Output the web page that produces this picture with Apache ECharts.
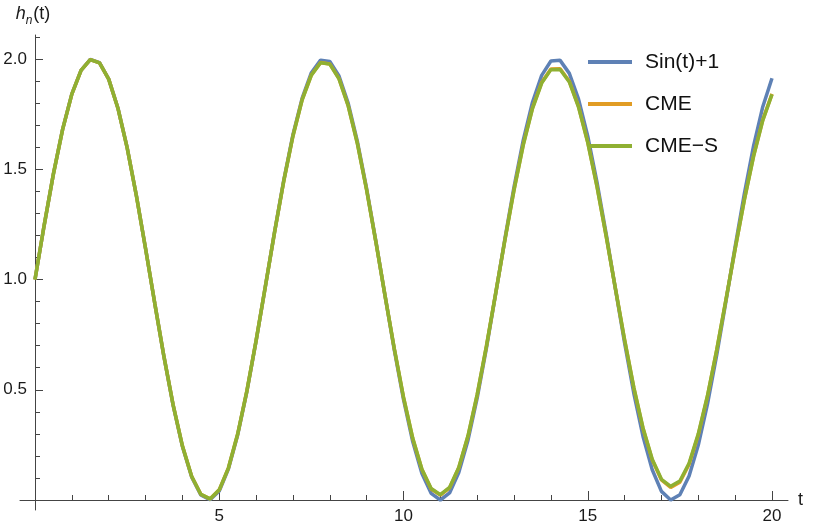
<!DOCTYPE html>
<html>
<head>
<meta charset="utf-8">
<title>h_n(t)</title>
<script src="https://cdn.jsdelivr.net/npm/echarts@6/dist/echarts.min.js"></script>
<style>
  html, body { margin: 0; padding: 0; background: #fff; }
  #chart { width: 814px; height: 529px; }
</style>
</head>
<body>
<div id="chart"></div>
<script>
// 采样点 t
const tValues = [
  0, 0.25, 0.5, 0.75, 1, 1.25, 1.5, 1.75, 2, 2.25, 2.5, 2.75, 3, 3.25, 3.5, 3.75,
  4, 4.25, 4.5, 4.75, 5, 5.25, 5.5, 5.75, 6, 6.25, 6.5, 6.75, 7, 7.25, 7.5, 7.75,
  8, 8.25, 8.5, 8.75, 9, 9.25, 9.5, 9.75, 10, 10.25, 10.5, 10.75, 11, 11.25, 11.5, 11.75,
  12, 12.25, 12.5, 12.75, 13, 13.25, 13.5, 13.75, 14, 14.25, 14.5, 14.75, 15, 15.25, 15.5, 15.75,
  16, 16.25, 16.5, 16.75, 17, 17.25, 17.5, 17.75, 18, 18.25, 18.5, 18.75, 19, 19.25, 19.5, 19.75, 20
];

// Sin(t)+1
const sinValues = [
  1.000, 1.247, 1.479, 1.682, 1.842, 1.949, 1.998, 1.984, 1.909, 1.778, 1.599, 1.382, 1.141, 0.892, 0.649, 0.428,
  0.243, 0.105, 0.023, 0.001, 0.041, 0.141, 0.295, 0.492, 0.721, 0.967, 1.215, 1.450, 1.657, 1.823, 1.938, 1.995,
  1.989, 1.923, 1.799, 1.625, 1.412, 1.174, 0.925, 0.681, 0.456, 0.265, 0.120, 0.030, 0.000, 0.032, 0.125, 0.271,
  0.463, 0.689, 0.934, 1.183, 1.420, 1.632, 1.804, 1.926, 1.991, 1.994, 1.935, 1.818, 1.650, 1.442, 1.207, 0.958,
  0.712, 0.484, 0.288, 0.137, 0.039, 0.000, 0.024, 0.109, 0.249, 0.436, 0.658, 0.901, 1.150, 1.390, 1.606, 1.784, 1.913
];

// CME
const cmeValues = [
  1.000, 1.247, 1.479, 1.681, 1.841, 1.949, 1.997, 1.983, 1.909, 1.777, 1.598, 1.381, 1.141, 0.892, 0.650, 0.430,
  0.246, 0.108, 0.026, 0.005, 0.046, 0.146, 0.299, 0.495, 0.723, 0.967, 1.213, 1.446, 1.651, 1.816, 1.928, 1.984,
  1.978, 1.911, 1.788, 1.616, 1.406, 1.171, 0.926, 0.686, 0.466, 0.279, 0.138, 0.050, 0.022, 0.055, 0.146, 0.289,
  0.477, 0.697, 0.936, 1.178, 1.408, 1.613, 1.778, 1.894, 1.955, 1.956, 1.899, 1.785, 1.623, 1.423, 1.197, 0.960,
  0.726, 0.509, 0.324, 0.182, 0.091, 0.057, 0.081, 0.162, 0.296, 0.471, 0.680, 0.908, 1.139, 1.362, 1.561, 1.724, 1.842
];

// CME-S
const cmesValues = [
  1.000, 1.247, 1.479, 1.681, 1.841, 1.949, 1.997, 1.983, 1.909, 1.777, 1.598, 1.381, 1.141, 0.892, 0.650, 0.430,
  0.246, 0.108, 0.026, 0.005, 0.046, 0.146, 0.299, 0.495, 0.723, 0.967, 1.213, 1.446, 1.651, 1.815, 1.927, 1.983,
  1.977, 1.910, 1.787, 1.615, 1.405, 1.171, 0.926, 0.687, 0.467, 0.281, 0.140, 0.052, 0.024, 0.057, 0.148, 0.291,
  0.479, 0.698, 0.936, 1.177, 1.406, 1.610, 1.775, 1.891, 1.952, 1.953, 1.896, 1.782, 1.621, 1.422, 1.197, 0.960,
  0.727, 0.511, 0.327, 0.185, 0.094, 0.062, 0.086, 0.167, 0.300, 0.474, 0.681, 0.908, 1.139, 1.361, 1.559, 1.722, 1.840
];

// 刻度
const xMajorTicks = [5, 10, 15, 20];
const yMajorTicks = [0.5, 1.0, 1.5, 2.0];

const seriesNames = ['Sin(t)+1', 'CME', 'CME\u2212S'];
const seriesColors = ['#5E81B5', '#E19C24', '#8FB032'];

const chart = echarts.init(document.getElementById('chart'));

function pairs(values) {
  return tValues.map((t, i) => [t, values[i]]);
}

const axisColor = '#444';
const labelFont = { fontFamily: 'Liberation Sans', fontSize: 17, color: '#1a1a1a' };

// 小刻度轴（只画刻度）
function minorAxis(position, interval, max) {
  return {
    type: 'value',
    gridIndex: 0,
    position: position,
    min: 0,
    max: max,
    interval: interval,
    axisLine: { show: false, onZero: false },
    splitLine: { show: false },
    axisTick: { show: true, inside: true, length: 5, lineStyle: { color: axisColor, width: 1 } },
    axisLabel: { show: false }
  };
}

// 主刻度轴（刻度 + 标签）
function majorAxis(position, ticks, max, len, fmt) {
  return {
    type: 'value',
    gridIndex: 0,
    position: position,
    min: 0,
    max: max,
    axisLine: { show: false, onZero: false },
    splitLine: { show: false },
    axisTick: {
      show: true, inside: true, length: len, customValues: ticks,
      lineStyle: { color: axisColor, width: 1 }
    },
    axisLabel: Object.assign({
      show: true,
      customValues: ticks,
      formatter: fmt
    }, labelFont)
  };
}

// 轴线（延伸过原点）
function lineAxis(position, min, max, name, nameOpts) {
  return Object.assign({
    type: 'value',
    gridIndex: 1,
    position: position,
    min: min,
    max: max,
    name: name,
    axisLine: { show: true, onZero: true, lineStyle: { color: axisColor, width: 1 } },
    axisTick: { show: false },
    axisLabel: { show: false },
    splitLine: { show: false }
  }, nameOpts);
}

const option = {
  animation: false,
  backgroundColor: '#fff',
  grid: [
    { left: 35, right: 42, top: 37, bottom: 29 },
    { left: 20, right: 26, top: 35, bottom: 19 }
  ],
  legend: {
    orient: 'vertical',
    left: 588,
    top: 51,
    padding: 0,
    itemGap: 20,
    itemWidth: 44,
    itemHeight: 4,
    icon: 'rect',
    data: seriesNames,
    textStyle: {
      fontFamily: 'Liberation Sans',
      fontSize: 21,
      lineHeight: 22,
      color: '#111',
      padding: [0, 0, 0, 8]
    }
  },
  xAxis: [
    minorAxis('bottom', 1, 20),
    majorAxis('bottom', xMajorTicks, 20, 9, v => String(v)),
    lineAxis('bottom', -0.407, 20.434, 't', {
      nameLocation: 'end',
      nameGap: 10,
      nameTextStyle: { fontFamily: 'Liberation Sans', fontSize: 18, color: '#1a1a1a' }
    })
  ],
  yAxis: [
    minorAxis('left', 0.1, 2.1),
    majorAxis('left', yMajorTicks, 2.1, 8, v => v.toFixed(1)),
    lineAxis('left', -0.045, 2.109, '{h|h}{n|n}{p|(t)}', {
      nameLocation: 'end',
      nameGap: 12,
      nameTextStyle: {
        fontFamily: 'Liberation Sans',
        color: '#1a1a1a',
        padding: [0, 4, 0, 0],
        rich: {
          h: { fontFamily: 'Liberation Sans', fontSize: 18, fontStyle: 'italic', lineHeight: 22, verticalAlign: 'bottom' },
          n: { fontFamily: 'Liberation Sans', fontSize: 12, fontStyle: 'italic', lineHeight: 22, verticalAlign: 'bottom', padding: [0, 1, -4, 0] },
          p: { fontFamily: 'Liberation Sans', fontSize: 18, lineHeight: 22, verticalAlign: 'bottom' }
        }
      }
    })
  ],
  series: [
    { name: seriesNames[0], data: pairs(sinValues) },
    { name: seriesNames[1], data: pairs(cmeValues) },
    { name: seriesNames[2], data: pairs(cmesValues) }
  ].map((s, i) => ({
    name: s.name,
    type: 'line',
    xAxisIndex: 0,
    yAxisIndex: 0,
    data: s.data,
    showSymbol: false,
    clip: false,
    lineStyle: { color: seriesColors[i], width: 3.5 },
    itemStyle: { color: seriesColors[i] }
  }))
};

chart.setOption(option);

window.addEventListener('resize', function() {
  chart.resize();
});
</script>
</body>
</html>
